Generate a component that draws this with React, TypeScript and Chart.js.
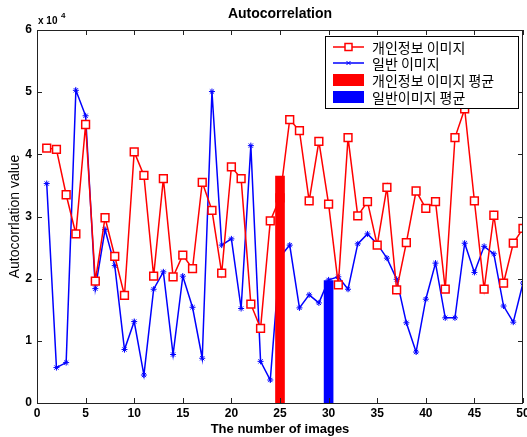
import React, { useEffect, useRef } from "react";
import { Chart, registerables } from "chart.js";

Chart.register(...registerables);

const imageIndex = [1,2,3,4,5,6,7,8,9,10,11,12,13,14,15,16,17,18,19,20,21,22,23,24,25,26,27,28,29,30,31,32,33,34,35,36,37,38,39,40,41,42,43,44,45,46,47,48,49,50];
const privateImages = [41000,40800,33500,27200,44800,19600,29800,23600,17300,40400,36600,20400,36100,20300,23800,21600,35500,31000,20900,38000,36100,15900,12000,29300,33000,45600,43800,32500,42100,32000,19000,42700,30100,32400,25400,34700,18200,25800,34100,31300,32400,18300,42700,47300,32500,18300,30200,19300,25700,28100];
const normalImages = [35300,5700,6500,50300,46200,18400,27900,22100,8600,13100,4500,18300,21100,7800,20400,15400,7200,50100,25400,26400,15200,41400,6700,3700,23500,25400,15300,17400,16100,19800,20300,18300,25600,27200,25600,23300,19900,12900,8200,16700,22500,13700,13700,25700,21000,25200,24000,15600,13000,19300];
const privateMean = { x: 25, y: 36500 };
const normalMean = { x: 30, y: 19700 };
const legendLabels = ["개인정보 이미지", "일반 이미지", "개인정보 이미지 평균", "일반이미지 평균"];
const xTicks = [0,5,10,15,20,25,30,35,40,45,50];
const yTicks = [0,10000,20000,30000,40000,50000,60000];

const overlay = {
  id: "matlabOverlay",
  afterDatasetsDraw(chart: any) {
    const ctx = chart.ctx;
    const a = chart.chartArea;
    const xs = chart.scales.x;
    const ys = chart.scales.y;
    ctx.save();
    ctx.strokeStyle = "#222";
    ctx.lineWidth = 1;
    ctx.strokeRect(Math.round(a.left) + 0.5, Math.round(a.top) + 0.5, Math.round(a.right - a.left) - 1, Math.round(a.bottom - a.top));
    ctx.beginPath();
    xTicks.forEach((v) => {
      const px = Math.round(xs.getPixelForValue(v)) + 0.5;
      ctx.moveTo(px, a.bottom);
      ctx.lineTo(px, a.bottom - 5);
      ctx.moveTo(px, a.top);
      ctx.lineTo(px, a.top + 5);
    });
    yTicks.forEach((v) => {
      const py = Math.round(ys.getPixelForValue(v)) + 0.5;
      ctx.moveTo(a.left, py);
      ctx.lineTo(a.left + 5, py);
      ctx.moveTo(a.right, py);
      ctx.lineTo(a.right - 5, py);
    });
    ctx.stroke();

    // legend
    const lx = 325.5, ly = 36.5, lw = 193, lh = 72;
    ctx.fillStyle = "#fff";
    ctx.fillRect(lx, ly, lw, lh);
    ctx.strokeStyle = "#000";
    ctx.strokeRect(lx, ly, lw, lh);
    const rows = [47, 63, 80, 97];
    const sx0 = 333, sx1 = 364, sxm = 348.5;
    ctx.strokeStyle = "#ff0000";
    ctx.lineWidth = 1.5;
    ctx.beginPath();
    ctx.moveTo(sx0, rows[0]);
    ctx.lineTo(sx1, rows[0]);
    ctx.stroke();
    ctx.fillStyle = "#fff";
    ctx.fillRect(sxm - 3.5, rows[0] - 3.5, 7, 7);
    ctx.strokeRect(sxm - 3.5, rows[0] - 3.5, 7, 7);
    ctx.strokeStyle = "#0000ff";
    ctx.beginPath();
    ctx.moveTo(sx0, rows[1]);
    ctx.lineTo(sx1, rows[1]);
    ctx.stroke();
    ctx.lineWidth = 1;
    ctx.beginPath();
    ctx.moveTo(sxm - 2, rows[1] - 2);
    ctx.lineTo(sxm + 2, rows[1] + 2);
    ctx.moveTo(sxm + 2, rows[1] - 2);
    ctx.lineTo(sxm - 2, rows[1] + 2);
    ctx.stroke();
    ctx.fillStyle = "#ff0000";
    ctx.fillRect(sx0, rows[2] - 6, sx1 - sx0, 12);
    ctx.fillStyle = "#0000ff";
    ctx.fillRect(sx0, rows[3] - 6, sx1 - sx0, 12);
    ctx.fillStyle = "#000";
    ctx.font = "14px 'Noto Sans CJK KR'";
    ctx.textBaseline = "middle";
    ctx.textAlign = "left";
    legendLabels.forEach((t, i) => ctx.fillText(t, 372, rows[i] + 1));

    const cx = (a.left + a.right) / 2;
    ctx.font = "bold 14px 'Liberation Sans'";
    ctx.textAlign = "center";
    ctx.textBaseline = "alphabetic";
    ctx.fillText("Autocorrelation", cx, 18);
    ctx.textAlign = "left";
    ctx.font = "bold 10px 'Liberation Sans'";
    ctx.fillText("x 10", 38, 24);
    ctx.font = "bold 8px 'Liberation Sans'";
    ctx.fillText("4", 61, 18);
    ctx.font = "bold 13px 'Liberation Sans'";
    ctx.textAlign = "center";
    ctx.fillText("The number of images", cx, 433);
    ctx.save();
    ctx.translate(19, (a.top + a.bottom) / 2);
    ctx.rotate(-Math.PI / 2);
    ctx.font = "14px 'Liberation Sans'";
    ctx.textAlign = "center";
    ctx.textBaseline = "alphabetic";
    ctx.fillText("Autocorrlation value", 0, 0);
    ctx.restore();
    ctx.restore();
  },
};

export default function App() {
  const ref = useRef<HTMLCanvasElement | null>(null);
  useEffect(() => {
    if (!ref.current) return;
    const chart = new Chart(ref.current, {
      type: "line",
      data: {
        datasets: [
          {
            type: "bar",
            label: legendLabels[2],
            data: [privateMean],
            backgroundColor: "#ff0000",
            borderWidth: 0,
            barThickness: 9,
            grouped: false,
            order: 0,
          } as any,
          {
            type: "bar",
            label: legendLabels[3],
            data: [normalMean],
            backgroundColor: "#0000ff",
            borderWidth: 0,
            barThickness: 9,
            grouped: false,
            order: 1,
          } as any,
          {
            type: "line",
            label: legendLabels[0],
            data: imageIndex.map((x, i) => ({ x, y: privateImages[i] })),
            borderColor: "#ff0000",
            borderWidth: 1.5,
            pointStyle: "rect",
            pointRadius: 5.5,
            pointBorderWidth: 1.5,
            pointBorderColor: "#ff0000",
            pointBackgroundColor: "#ffffff",
            tension: 0,
            order: 2,
          },
          {
            type: "line",
            label: legendLabels[1],
            data: imageIndex.map((x, i) => ({ x, y: normalImages[i] })),
            borderColor: "#0000ff",
            borderWidth: 1.5,
            pointStyle: "star",
            pointRadius: 3,
            pointBorderWidth: 1,
            pointBorderColor: "#0000ff",
            pointBackgroundColor: "#0000ff",
            tension: 0,
            order: 3,
          },
        ],
      },
      options: {
        animation: false,
        responsive: false,
        layout: { autoPadding: false, padding: { left: 0, right: 4, top: 30, bottom: 0 } },
        plugins: { legend: { display: false }, title: { display: false }, tooltip: { enabled: false } },
        scales: {
          x: {
            type: "linear",
            min: 0,
            max: 50,
            offset: false,
            grid: { display: false, drawTicks: false },
            border: { display: false },
            ticks: {
              stepSize: 5,
              padding: 3,
              color: "#000",
              font: { family: "'Liberation Sans'", size: 12, weight: "bold" },
              maxRotation: 0,
            },
            afterFit: (s: any) => {
              s.height = 34;
              s.paddingLeft = 0;
              s.paddingRight = 0;
            },
          },
          y: {
            type: "linear",
            min: 0,
            max: 60000,
            grid: { display: false, drawTicks: false },
            border: { display: false },
            ticks: {
              stepSize: 10000,
              padding: 5,
              color: "#000",
              font: { family: "'Liberation Sans'", size: 12, weight: "bold" },
              callback: (v: any) => String(Number(v) / 10000),
            },
            afterFit: (s: any) => {
              s.width = 37;
              s.paddingTop = 0;
              s.paddingBottom = 0;
            },
          },
        },
      },
      plugins: [overlay],
    });
    return () => chart.destroy();
  }, []);
  return (
    <div style={{ position: "absolute", left: 0, top: 0, width: 527, height: 437, background: "#fff" }}>
      <canvas ref={ref} width={527} height={437} style={{ display: "block" }} />
    </div>
  );
}
